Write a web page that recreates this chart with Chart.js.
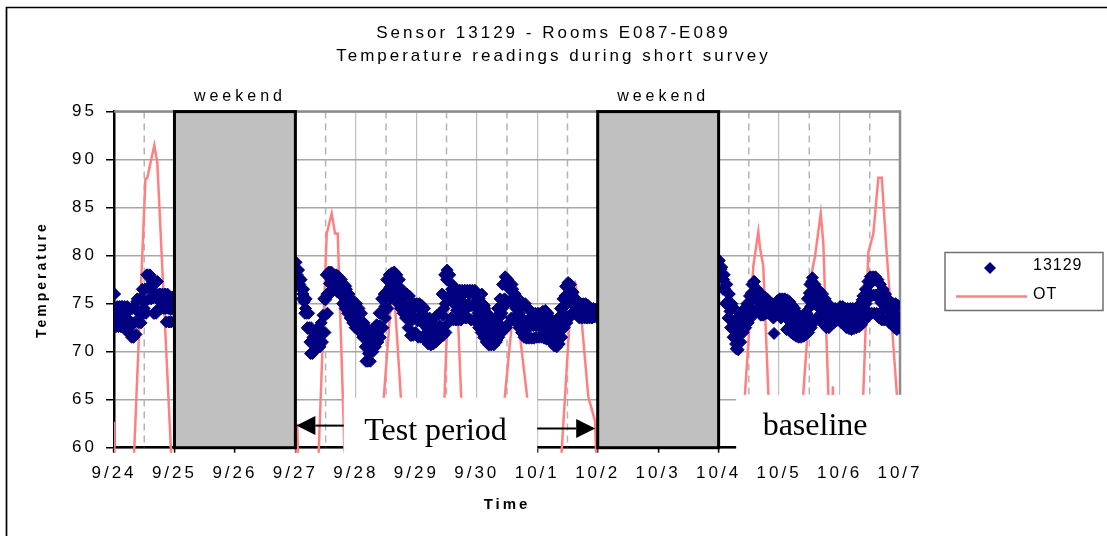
<!DOCTYPE html>
<html>
<head>
<meta charset="utf-8">
<script src="https://cdn.jsdelivr.net/npm/chart.js@4.4.1/dist/chart.umd.min.js"></script>
<style>
  html, body { margin: 0; padding: 0; background: #fff; overflow: hidden; }
  #wrap { position: relative; width: 1107px; height: 536px; }
</style>
</head>
<body>
<div id="wrap"><canvas id="chart" width="1107" height="536"></canvas></div>
<script>
// x axis = days since 9/24 00:00
const dayLabels = ['9/24', '9/25', '9/26', '9/27', '9/28', '9/29', '9/30',
                   '10/1', '10/2', '10/3', '10/4', '10/5', '10/6', '10/7'];

// sensor 13129 - four readings per hour (:00, :15, :30, :45), weekdays only
// (the weekends are hidden under the grey boxes)
const sensorDays = [0, 3, 4, 5, 6, 7, 10, 11, 12];

// :00 readings
const s0924 = [76, 74.5, 73.3, 74.7, 72.6, 74, 72.6, 71.5, 73, 75.2, 74, 75.5, 74.5, 78, 77.7, 76.5, 74, 77.3, 76, 75.4, 74.7, 75.7, 73.1, 75.3];
const s0927 = [79.3, 78.5, 77.5, 76, 74.5, 72.4, 69.8, 71.5, 70.2, 72, 71, 73.8, 75.4, 78, 77.2, 78, 77.5, 77.8, 77, 76, 76.8, 75.4, 74.5, 74.7];
const s0928 = [74.3, 73.6, 73, 72.2, 69, 69.8, 70.5, 71.8, 71, 72.6, 74, 75.4, 76.2, 77.5, 78, 78.2, 77.5, 76.5, 75.8, 74, 76, 73.6, 71.7, 74.5];
const s0929 = [74.7, 73.5, 74.3, 73.3, 72.5, 71.9, 72.8, 71.2, 72, 71.5, 72.5, 74.5, 77.5, 78, 76.5, 75.4, 74.3, 75.8, 74, 76, 74.5, 76, 74.8, 76];
const s0930 = [76, 75.5, 76, 74.8, 73, 71.5, 70.9, 72, 71.2, 72.8, 74, 75.5, 77.6, 76.5, 77, 75.8, 75.4, 74, 74.7, 73, 72.3, 73.5, 72.8, 73.6];
const s1001 = [73, 73.6, 72.5, 73.3, 72, 72.5, 71.2, 70.6, 71.9, 73, 74.5, 75.8, 77, 76.5, 75.5, 74.7, 75, 74, 74.5, 73.8, 74.3, 74, 74.3, 74.3];
const s1004 = [79.4, 78.6, 77.5, 77, 76, 74.5, 72.6, 70.3, 71.8, 73.3, 72.8, 74.3, 75, 76.1, 77.3, 75.5, 76.1, 74.5, 75.7, 74, 75, 74, 71.9, 74.7];
const s1005 = [75.4, 74.7, 75.4, 72.3, 75.2, 73.8, 72.6, 73.2, 72.3, 72.8, 72.6, 74, 76.1, 77.3, 76.5, 76.1, 74.5, 75.4, 73.8, 74.3, 73.3, 74, 73.5, 74];
const s1006 = [74.3, 73.5, 74.3, 73.8, 74, 73.3, 73.8, 73, 74, 75.4, 74.5, 76.1, 77, 77.3, 77.5, 77.3, 74, 76.4, 75.4, 73.3, 74.7, 74.3, 74, 73.3];

// :15 readings (upper edge of the band)
const h0924 = [76, 74.7, 74.7, 74.7, 74.7, 74.7, 74.5, 74.5, 74.5, 75.5, 75.5, 76.5, 76.5, 78, 78, 77.3, 77.3, 77.3, 76, 76, 76, 76, 75.7, 75.7];
const h0927 = [79.3, 78.5, 77.5, 76.5, 75.5, 74, 72.5, 72, 72.3, 72.5, 73, 75.5, 78, 78.3, 78.3, 78, 78, 77.8, 77.5, 77, 76.5, 76, 75.5, 75];
const h0928 = [75, 74.5, 74, 73, 72.5, 71.5, 72, 72.5, 72.8, 74, 75.5, 76, 77.5, 78, 78.2, 78.3, 78, 77.5, 76.5, 76, 76, 75.8, 75, 75];
const h0929 = [75, 75, 74.8, 74.5, 73.5, 73.5, 73.3, 73.5, 73.8, 74, 76, 78, 78.5, 78, 77, 76.4, 76.4, 76.4, 76.4, 76.4, 76.4, 76.4, 76.4, 76.4];
const h0930 = [75.5, 75.2, 75, 74.5, 74, 73.5, 73, 73.5, 74.5, 75.5, 77, 77.8, 77.5, 77, 76.5, 76, 75.6, 75.2, 75, 75, 74.5, 74.3, 74, 74];
const h1001 = [74, 74, 74.2, 74.3, 74, 73.5, 73, 73, 73.5, 74.5, 75.5, 76.8, 77.2, 77, 76.2, 75.5, 75.2, 75, 75, 75, 74.8, 74.5, 74.5, 74.4];
const h1004 = [79.5, 78.8, 78, 77, 76, 75, 74.5, 73.5, 73.5, 74, 74.5, 75, 75.8, 77, 77.3, 76.5, 76.2, 75.8, 75.7, 75.5, 75.2, 75, 75, 75.3];
const h1005 = [75.5, 75.5, 75.5, 75.4, 75.2, 74.8, 74.5, 74, 73.5, 73.5, 74, 75.5, 77, 77.7, 77, 76.5, 76.3, 76, 75.5, 75, 74.8, 74.5, 74.5, 74.3];
const h1006 = [74.7, 74.7, 74.5, 74.5, 74.5, 74.5, 74.5, 74.5, 75, 75.8, 76.5, 77.3, 77.8, 77.8, 77.8, 77.5, 77, 76.5, 76, 75.5, 75.2, 75, 75, 74.8];

// :30 readings (middle of the band)
const m0924 = [74.3, 73.6, 73.6, 73.6, 73.4, 73.4, 73.1, 73, 73.1, 74.2, 74.2, 75.2, 75.2, 76.7, 76.7, 75.6, 75.6, 75.9, 75.2, 75.2, 74.5, 74.5, 74.4, 74.4];
const m0927 = [78.6, 77.7, 76.5, 75.2, 74, 72.5, 71.1, 71.1, 71.4, 71.5, 72, 73.7, 76, 77.1, 77.4, 77.2, 77.1, 76.9, 76.2, 75.7, 75.2, 74.7, 74.2, 73.7];
const m0928 = [73.7, 73.2, 72.7, 71.7, 70.7, 70.2, 71, 71.5, 71.9, 72.7, 74, 74.7, 76, 76.7, 77.1, 77.1, 76.5, 76, 75.2, 74.7, 74.2, 73.7, 73.3, 73.5];
const m0929 = [73.2, 73.2, 73.1, 72.9, 72.1, 72.1, 72, 72.2, 72.5, 72.7, 73.8, 75, 75.7, 75.7, 75.1, 74.8, 74.8, 74.8, 74.9, 74.9, 74.9, 74.8, 74.8, 74.8];
const m0930 = [74, 73.6, 73.2, 72.7, 72.3, 72.1, 71.8, 72.2, 73, 73.7, 74.6, 75.1, 75.2, 75.2, 75, 74.5, 74, 73.6, 73.2, 73.2, 72.9, 72.8, 72.7, 72.7];
const m1001 = [72.7, 72.7, 72.8, 72.8, 72.6, 72.2, 71.8, 71.7, 72.1, 73, 74, 74.9, 75.3, 75.5, 75.1, 74.6, 74.3, 74.2, 74.2, 74.2, 74.1, 74, 74, 74];
const m1004 = [78.7, 77.6, 76.5, 75.2, 74.2, 73.2, 72.6, 71.8, 72.2, 73, 73.5, 74, 74.6, 75.5, 75.8, 75.4, 75, 74.8, 74.8, 74.7, 74.5, 74.2, 74.4, 74.6];
const m1005 = [74.5, 74.6, 74.5, 74, 73.6, 73.3, 73, 72.7, 72.5, 72.5, 72.9, 73.7, 74.7, 75.3, 75.2, 75, 74.8, 74.4, 74, 73.7, 73.8, 73.7, 73.8, 73.8];
const m1006 = [73.8, 73.7, 73.5, 73.4, 73.4, 73.4, 73.5, 73.5, 73.9, 74.5, 75, 75.5, 75.9, 75.9, 75.9, 75.5, 75.1, 74.9, 74.6, 74.2, 74, 73.7, 73.6, 73.6];

// :45 readings (lower edge of the band)
const l0924 = [72.6, 72.6, 72.6, 72.6, 72.2, 72.2, 71.8, 71.5, 71.8, 73, 73, 74, 74, 75.5, 75.5, 74, 74, 74.5, 74.5, 74.5, 73.1, 73.1, 73.1, 73.1];
const l0927 = [78, 77, 75.5, 74, 72.5, 71, 69.8, 70.2, 70.5, 70.5, 71, 72, 74, 76, 76.5, 76.5, 76.2, 76, 75, 74.5, 74, 73.5, 73, 72.5];
const l0928 = [72.5, 72, 71.5, 70.5, 69, 69, 70, 70.5, 71, 71.5, 72.5, 73.5, 74.5, 75.5, 76, 76, 75, 74.5, 74, 73.5, 72.5, 71.7, 71.7, 72];
const l0929 = [71.5, 71.5, 71.4, 71.3, 70.8, 70.7, 70.8, 71, 71.3, 71.5, 71.7, 72, 73, 73.5, 73.3, 73.3, 73.3, 73.3, 73.5, 73.5, 73.5, 73.3, 73.3, 73.3];
const l0930 = [72.5, 72, 71.5, 71, 70.7, 70.7, 70.7, 71, 71.5, 72, 72.2, 72.5, 73, 73.5, 73.5, 73, 72.5, 72, 71.5, 71.4, 71.4, 71.4, 71.4, 71.5];
const l1001 = [71.5, 71.5, 71.4, 71.3, 71.2, 71, 70.6, 70.5, 70.8, 71.5, 72.5, 73, 73.5, 74, 74, 73.8, 73.5, 73.5, 73.5, 73.5, 73.5, 73.5, 73.6, 73.6];
const l1004 = [78, 76.5, 75, 73.5, 72.5, 71.5, 70.8, 70.2, 71, 72, 72.5, 73, 73.5, 74, 74.3, 74.3, 73.8, 73.8, 74, 74, 73.8, 73.5, 73.8, 74];
const l1005 = [73.5, 73.8, 73.5, 72.5, 72, 71.8, 71.6, 71.5, 71.5, 71.6, 71.8, 72, 72.5, 73, 73.5, 73.5, 73.3, 72.8, 72.5, 72.5, 72.8, 73, 73.2, 73.3];
const l1006 = [73, 72.8, 72.5, 72.4, 72.3, 72.4, 72.5, 72.6, 72.8, 73.2, 73.5, 73.8, 74, 74, 74, 73.5, 73.3, 73.3, 73.3, 73, 72.8, 72.5, 72.3, 72.5];

const sensorAt00 = [s0924, s0927, s0928, s0929, s0930, s1001, s1004, s1005, s1006];
const sensorAt15 = [h0924, h0927, h0928, h0929, h0930, h1001, h1004, h1005, h1006];
const sensorAt30 = [m0924, m0927, m0928, m0929, m0930, m1001, m1004, m1005, m1006];
const sensorAt45 = [l0924, l0927, l0928, l0929, l0930, l1001, l1004, l1005, l1006];

// OT (outside temp) - vertices, night values are below the axis
const otDays  = [0, 0.03, 0.27, 0.52, 0.55, 0.667, 0.716, 1.015,
                 2.98, 3.03, 3.08, 3.33, 3.518, 3.601, 3.655, 3.70, 3.86,
                 4.28, 4.615, 4.90,
                 5.38, 5.53, 5.67, 5.84,
                 6.23, 6.63, 7.117,
                 7.311, 7.570, 7.625, 7.688, 7.708, 7.845, 7.955, 8.03,
                 10.274, 10.574, 10.657, 10.685, 10.739, 10.92,
                 11.227, 11.54, 11.594, 11.689, 11.732, 11.814, 11.86, 11.89, 11.93,
                 12.304, 12.476, 12.559, 12.642, 12.698, 12.78, 13];
const otTemps = [62.7, 50, 50, 88, 88.1, 91.5, 89.7, 50,
                 50, 62.5, 50, 50, 82.3, 84.4, 82.3, 82.3, 50,
                 50, 78, 50,
                 50, 76.5, 76.5, 50,
                 50, 76.2, 50,
                 50, 76.8, 77.2, 75.4, 75.1, 65.3, 62.8, 50,
                 50, 78.9, 82.5, 80.8, 78.9, 50,
                 50, 78.2, 79.9, 84.4, 81.3, 65.7, 56.5, 66.4, 50,
                 50, 80.3, 82.3, 88.1, 88.1, 80.3, 61];

const weekendStart = [1, 8];
const weekendEnd = [3, 10];

const FONT = '"Liberation Sans", Arial, sans-serif';
const SERIF = '"Liberation Serif", "Times New Roman", serif';

const sensorPoints = [];
sensorDays.forEach((d, k) => {
    for (let h = 0; h < 24; h++) {
        sensorPoints.push({ x: d + h / 24, y: sensorAt00[k][h] });
        sensorPoints.push({ x: d + (h + 0.25) / 24, y: sensorAt15[k][h] });
        sensorPoints.push({ x: d + (h + 0.5) / 24, y: sensorAt30[k][h] });
        sensorPoints.push({ x: d + (h + 0.75) / 24, y: sensorAt45[k][h] });
    }
});
const otPoints = otDays.map((d, i) => ({ x: d, y: otTemps[i] }));

function arrow(ctx, fromX, tipX, py) {
    const dir = Math.sign(tipX - fromX);
    const baseX = tipX - dir * 19;
    ctx.beginPath();
    ctx.moveTo(fromX, py);
    ctx.lineTo(baseX, py);
    ctx.stroke();
    ctx.beginPath();
    ctx.moveTo(tipX, py);
    ctx.lineTo(baseX, py - 9.5);
    ctx.lineTo(baseX, py + 9.5);
    ctx.closePath();
    ctx.fill();
}

const decor = {
    id: 'decor',
    beforeDraw(chart) {
        // the original print has wide letter spacing everywhere
        chart.ctx.letterSpacing = '3px';
    },
    beforeDatasetsDraw(chart) {
        const { ctx, chartArea: a, scales: { x } } = chart;
        ctx.save();
        // dashed lines at noon
        ctx.strokeStyle = '#b4b4b4';
        ctx.lineWidth = 1.5;
        ctx.setLineDash([7, 5]);
        for (let d = 0; d < dayLabels.length - 1; d++) {
            const px = x.getPixelForValue(d + 0.5);
            ctx.beginPath();
            ctx.moveTo(px, a.top);
            ctx.lineTo(px, a.bottom);
            ctx.stroke();
        }
        ctx.setLineDash([]);
        // gray top / right edge of plot area
        ctx.strokeStyle = '#8c8c8c';
        ctx.lineWidth = 2.5;
        ctx.beginPath();
        ctx.moveTo(a.left, a.top);
        ctx.lineTo(a.right, a.top);
        ctx.lineTo(a.right, a.bottom);
        ctx.stroke();
        ctx.restore();
    },
    afterDatasetsDraw(chart) {
        const { ctx, chartArea: a, scales: { x, y } } = chart;
        ctx.save();

        // weekend boxes
        weekendStart.forEach((s, i) => {
            const l = x.getPixelForValue(s);
            const r = x.getPixelForValue(weekendEnd[i]);
            ctx.fillStyle = '#c0c0c0';
            ctx.fillRect(l, a.top, r - l, a.bottom - a.top);
            ctx.strokeStyle = '#000';
            ctx.lineWidth = 3;
            ctx.strokeRect(l, a.top, r - l, a.bottom - a.top);
            ctx.fillStyle = '#000';
            ctx.font = '16px ' + FONT;
            ctx.letterSpacing = '4px';
            ctx.textAlign = 'center';
            ctx.textBaseline = 'middle';
            ctx.fillText('weekend', (l + r) / 2 + 5, a.top - 15);
        });

        // "Test period" box + arrows
        ctx.letterSpacing = '0px';
        const tl = x.getPixelForValue(3.8), tr = x.getPixelForValue(7.0);
        const tt = y.getPixelForValue(65.2);
        ctx.fillStyle = '#fff';
        ctx.fillRect(tl, tt, tr - tl, a.bottom + 7 - tt);
        ctx.fillStyle = '#000';
        ctx.font = '32px ' + SERIF;
        ctx.textAlign = 'center';
        ctx.textBaseline = 'alphabetic';
        ctx.fillText('Test period', (tl + tr) / 2 - 5, tt + 42);
        ctx.strokeStyle = '#000';
        ctx.lineWidth = 2;
        arrow(ctx, tl, x.getPixelForValue(3) + 1, y.getPixelForValue(62.3));
        arrow(ctx, tr, x.getPixelForValue(8) - 2.5, y.getPixelForValue(62.0));

        // "baseline" box
        const bl = x.getPixelForValue(10.29);
        const bt = y.getPixelForValue(65.5);
        ctx.fillStyle = '#fff';
        ctx.fillRect(bl, bt, a.right + 3 - bl, a.bottom + 6 - bt);
        ctx.fillStyle = '#000';
        ctx.fillText('baseline', (bl + a.right) / 2 - 3, bt + 40);
        ctx.restore();
    },
    afterDraw(chart) {
        const { ctx, chartArea: a } = chart;
        const ds = chart.data.datasets;
        ctx.save();
        ctx.letterSpacing = '1px';

        // legend
        const lx = a.right + 45, ly = 252.5, lw = 158, lh = 58;
        ctx.strokeStyle = '#707070';
        ctx.lineWidth = 1.5;
        ctx.strokeRect(lx, ly, lw, lh);
        ctx.fillStyle = ds[0].backgroundColor;
        ctx.beginPath();
        ctx.moveTo(lx + 39, ly + 15.5);
        ctx.lineTo(lx + 45, ly + 9.5);
        ctx.lineTo(lx + 51, ly + 15.5);
        ctx.lineTo(lx + 45, ly + 21.5);
        ctx.closePath();
        ctx.fill();
        ctx.strokeStyle = ds[1].borderColor;
        ctx.lineWidth = 2.5;
        ctx.beginPath();
        ctx.moveTo(lx + 11, ly + 44);
        ctx.lineTo(lx + 82, ly + 44);
        ctx.stroke();
        ctx.fillStyle = '#000';
        ctx.font = '16px ' + FONT;
        ctx.textAlign = 'left';
        ctx.textBaseline = 'middle';
        ctx.fillText(ds[0].label, lx + 88, ly + 13);
        ctx.fillText(ds[1].label, lx + 88, ly + 42);

        // page frame (left and top edges visible)
        ctx.strokeStyle = '#000';
        ctx.lineWidth = 1.7;
        ctx.beginPath();
        ctx.moveTo(6.5, 540);
        ctx.lineTo(6.5, 7.5);
        ctx.lineTo(1110, 7.5);
        ctx.stroke();
        ctx.restore();
    }
};

Chart.defaults.font.family = FONT;
Chart.defaults.color = '#000';

new Chart(document.getElementById('chart'), {
    type: 'scatter',
    data: {
        datasets: [{
            label: '13129',
            data: sensorPoints,
            pointStyle: 'rectRot',
            pointRadius: 6,
            backgroundColor: '#000080',
            borderColor: '#000080',
            borderWidth: 1
        }, {
            label: 'OT',
            data: otPoints,
            showLine: true,
            borderColor: '#ff8080',
            backgroundColor: '#ff8080',
            borderWidth: 2.5,
            pointRadius: 0,
            tension: 0,
            clip: { left: 0, top: 0, right: 0, bottom: 5 }
        }]
    },
    options: {
        responsive: false,
        animation: false,
        events: [],
        layout: { padding: 0 },
        scales: {
            x: {
                type: 'linear',
                min: 0,
                max: 13,
                ticks: {
                    stepSize: 1,
                    autoSkip: false,
                    maxRotation: 0,
                    font: { size: 17 },
                    padding: 10,
                    callback: v => dayLabels[Math.round(v)]
                },
                grid: { color: '#bfbfbf', lineWidth: 1.2, tickLength: 5, tickColor: '#000', tickWidth: 1.5 },
                border: { color: '#000', width: 2.5 },
                title: {
                    display: true,
                    text: 'Time',
                    font: { size: 15, weight: 'bold' },
                    padding: { top: 0, bottom: 22 }
                },
                afterFit(scale) { scale.height = 88.3; }
            },
            y: {
                min: 60,
                max: 95,
                ticks: { stepSize: 5, font: { size: 17 }, padding: 9 },
                grid: { color: '#a6a6a6', lineWidth: 1.5, tickLength: 8, tickColor: '#000', tickWidth: 1.5 },
                border: { color: '#000', width: 2.5 },
                title: {
                    display: true,
                    text: 'Temperature',
                    font: { size: 14, weight: 'bold' },
                    padding: { top: 33.6, bottom: 0 }
                },
                afterFit(scale) { scale.width = 114; }
            },
            // empty right-hand axis, only reserves room for the legend
            legendSpace: {
                position: 'right',
                display: true,
                ticks: { display: false },
                grid: { display: false },
                border: { display: false },
                afterFit(scale) { scale.width = 207; }
            }
        },
        plugins: {
            legend: { display: false },
            tooltip: { enabled: false },
            title: {
                display: true,
                text: ['Sensor 13129 - Rooms E087-E089', 'Temperature readings during short survey'],
                color: '#000',
                font: { size: 17, weight: 'normal', lineHeight: 1.35 },
                padding: { top: 21.5, bottom: 44.2 }
            }
        }
    },
    plugins: [decor]
});
</script>
</body>
</html>
